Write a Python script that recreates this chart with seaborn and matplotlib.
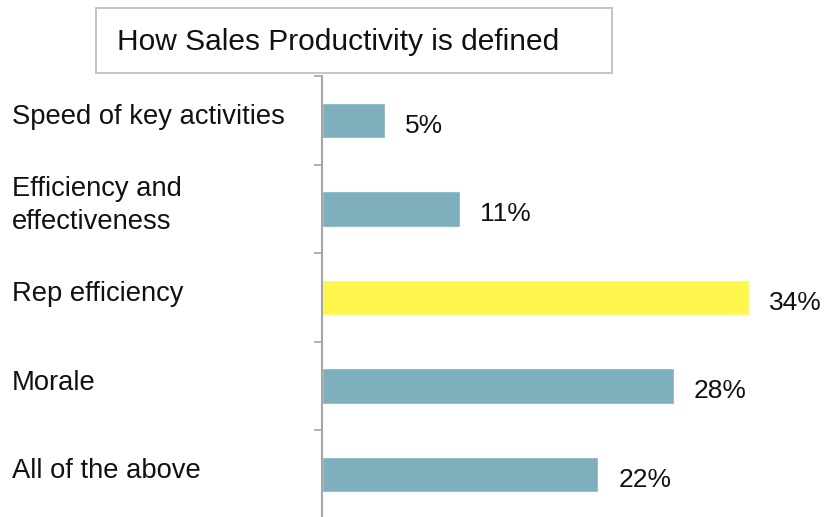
import matplotlib
matplotlib.use("Agg")
import matplotlib.pyplot as plt
import matplotlib.transforms as mtransforms
from matplotlib.patches import Rectangle
import seaborn as sns
import pandas as pd

categories = ["Speed of key activities", "Efficiency and\neffectiveness",
              "Rep efficiency", "Morale", "All of the above"]
values = [5, 11, 34, 28, 22]
value_labels = ["5%", "11%", "34%", "28%", "22%"]
title = "How Sales Productivity is defined"

sns.set_style("white")
plt.rcParams["font.family"] = ["Liberation Sans", "DejaVu Sans"]

teal = "#7DAFBC"
yellow = "#FFF64D"
bar_colors = [yellow if c == "Rep efficiency" else teal for c in categories]

df = pd.DataFrame({"category": categories, "value": values})

fig = plt.figure(figsize=(8.28, 5.17), dpi=100)
ax = fig.add_axes([322 / 828, -2 / 517, 1 - 322 / 828, (519 - 76) / 517])

sns.barplot(data=df, x="value", y="category", hue="category",
            palette=dict(zip(categories, bar_colors)), orient="h",
            width=0.4, legend=False, ax=ax, saturation=1)

ax.set_xlim(0, (828 - 322) / 12.56)
ax.set_ylim(4.5, -0.5)
ax.set_xlabel("")
ax.set_ylabel("")
ax.set_xticks([])
ax.set_yticks([i - 0.5 for i in range(len(categories) + 1)])
ax.set_yticklabels([])
ax.tick_params(axis="y", direction="out", length=6, width=1.2, color="#A6A6A6", left=True)
for side in ["top", "right", "bottom"]:
    ax.spines[side].set_visible(False)
ax.spines["left"].set_color("#A6A6A6")
ax.spines["left"].set_linewidth(1.5)

# value labels to the right of each bar
for i, (v, lab) in enumerate(zip(values, value_labels)):
    ax.text(v + 1.6, i + 0.06, lab, va="center", ha="left", fontsize=19, color="#111111")

# category labels, left-aligned at the figure's left margin
trans = mtransforms.blended_transform_factory(fig.transFigure, ax.transData)
for i, c in enumerate(categories):
    ax.text(12 / 828, i - 0.04, c, transform=trans, ha="left", va="center",
            fontsize=19.7, color="#111111", linespacing=1.32)

# boxed title
box = Rectangle((96 / 828, 1 - 73 / 517), (612 - 96) / 828, (73 - 8) / 517,
                transform=fig.transFigure, facecolor="white", edgecolor="#BBBBBB",
                linewidth=1.2, zorder=5)
fig.patches.append(box)
fig.text(117 / 828, 1 - 42 / 517, title, ha="left", va="center", fontsize=21.5,
         color="#111111", zorder=6)

fig.savefig("out.png", dpi=100)
